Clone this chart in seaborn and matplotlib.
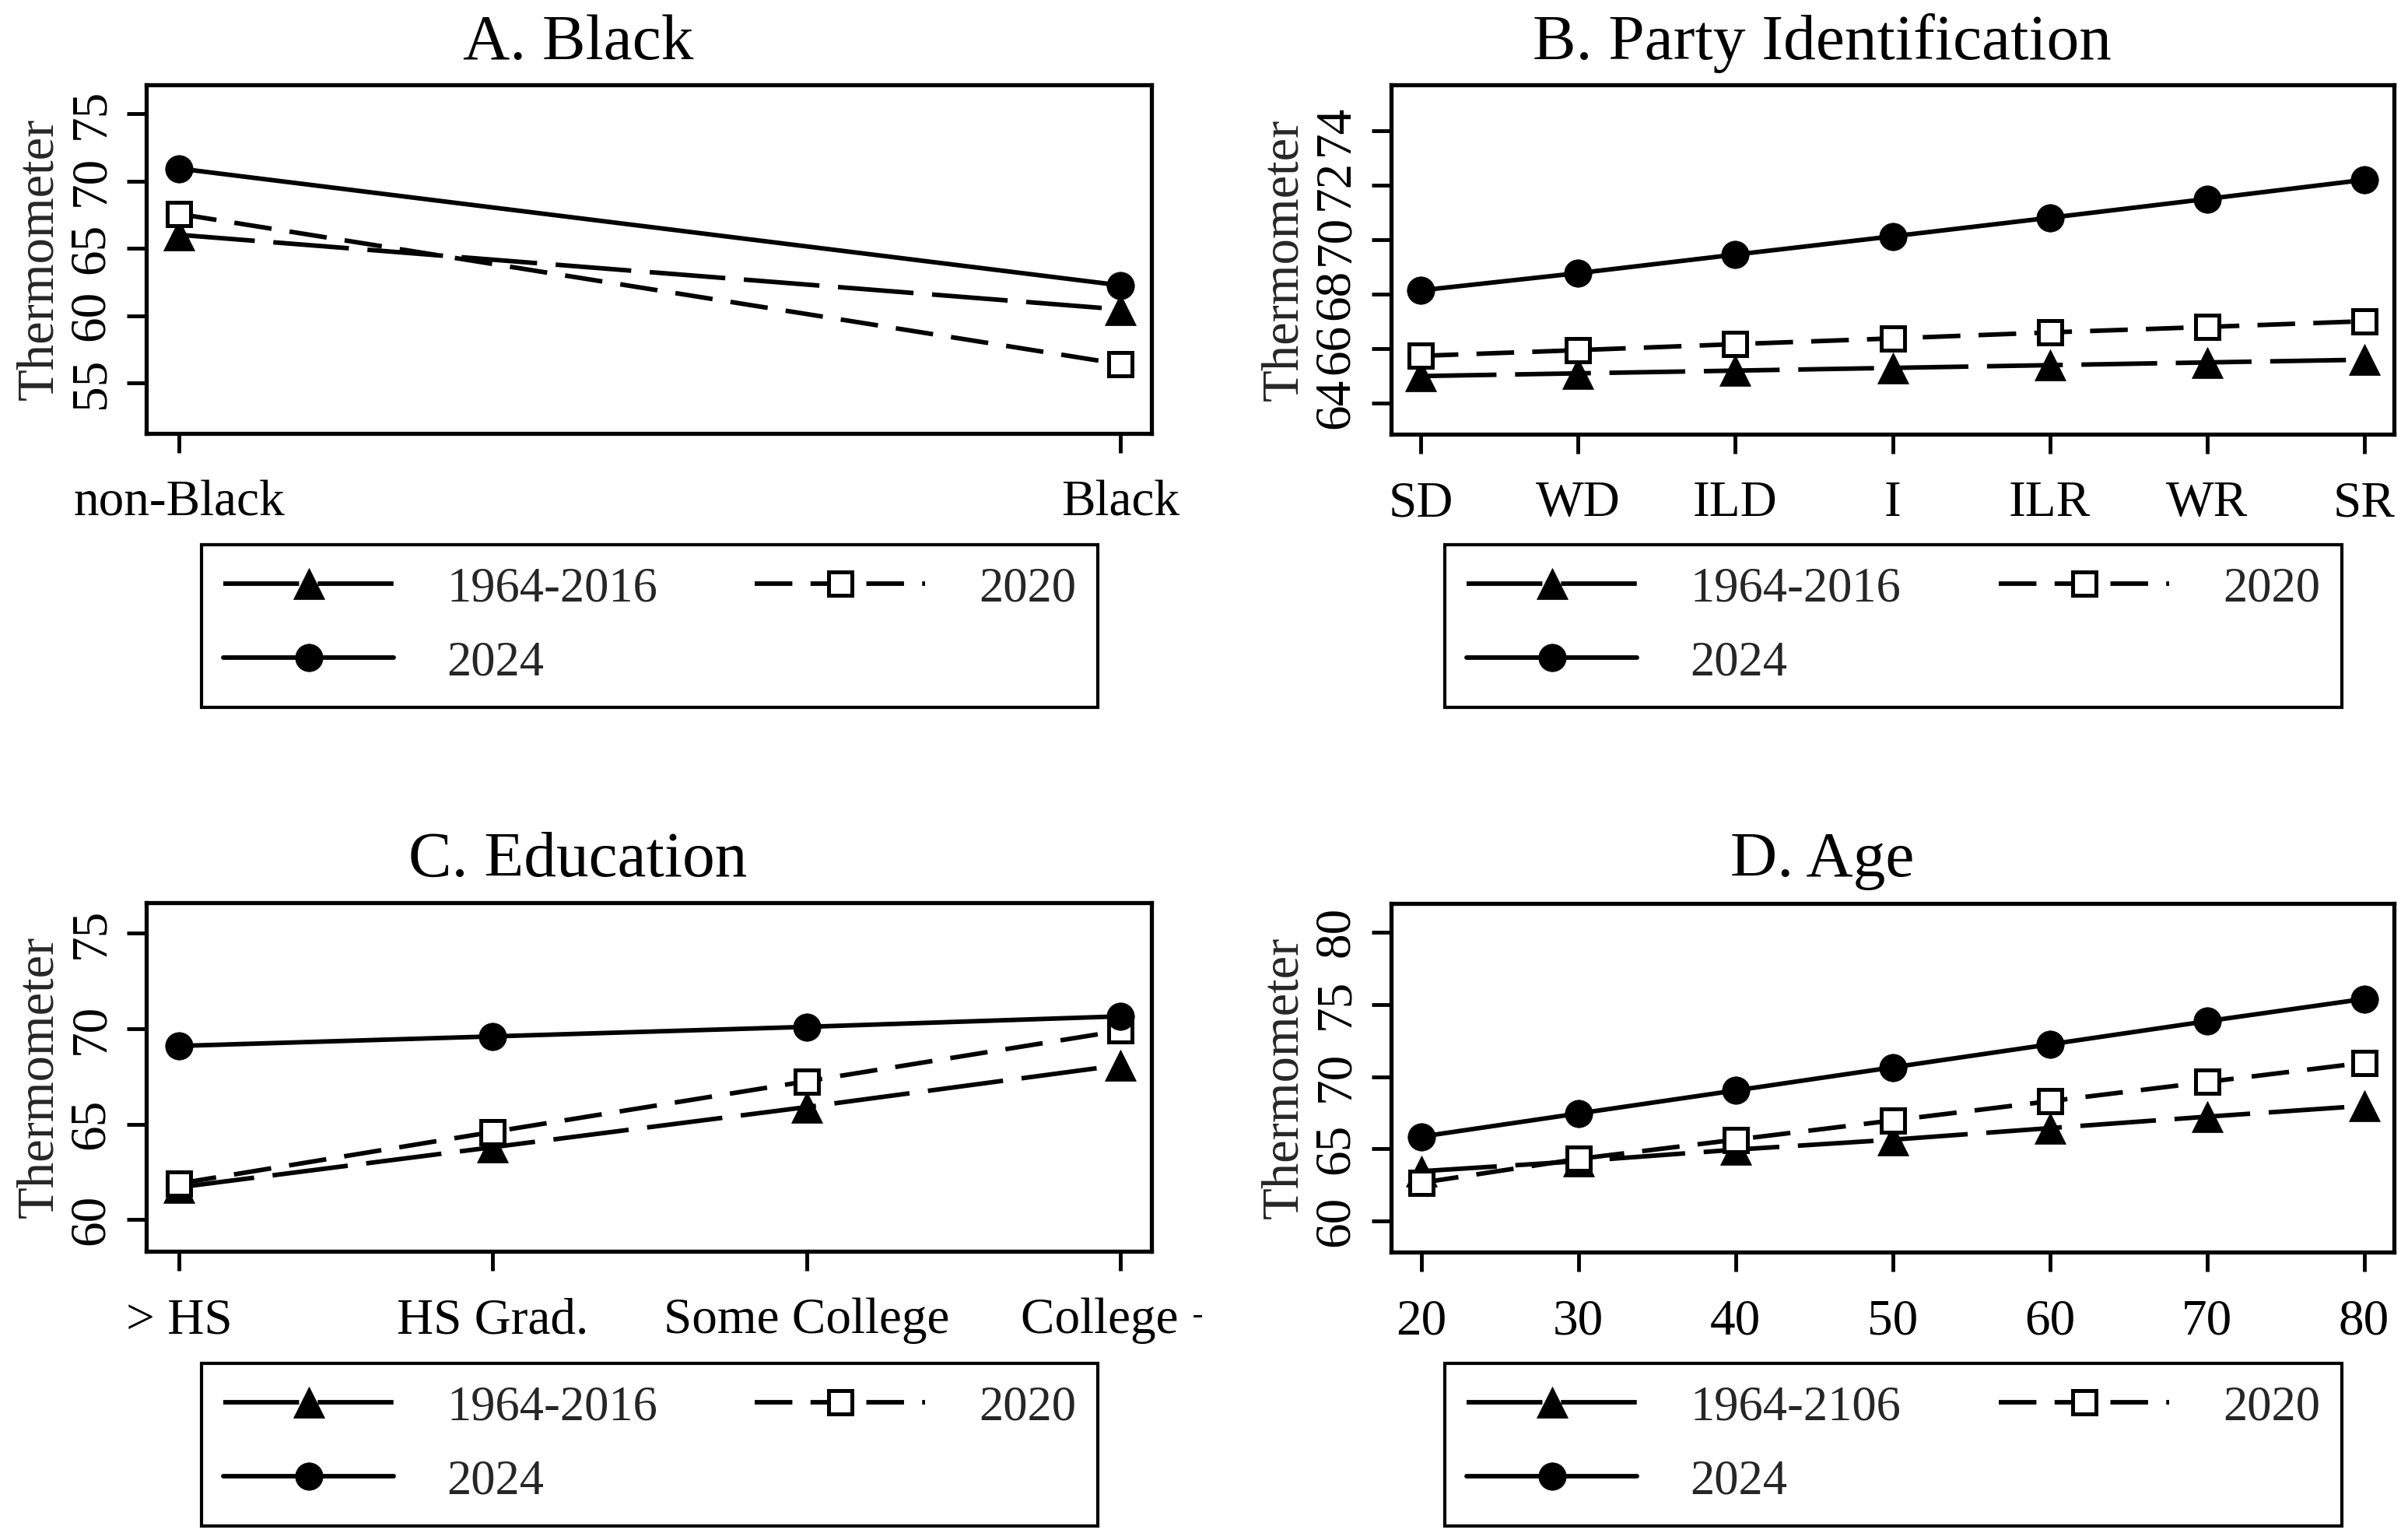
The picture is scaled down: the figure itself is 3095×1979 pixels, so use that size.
import numpy as np
import pandas as pd
import matplotlib
matplotlib.use("Agg")
import matplotlib.pyplot as plt
import seaborn as sns
from matplotlib.transforms import Bbox, TransformedBbox

# ---------------- data ----------------
black_cats = ["non-Black", "Black"]
black_1964_2016 = [66.0, 60.46]
black_2020 = [67.55, 56.4]
black_2024 = [70.92, 62.25]

party_cats = ["SD", "WD", "ILD", "I", "ILR", "WR", "SR"]
party_1964_2016 = [65.0, 65.1, 65.2, 65.3, 65.4, 65.5, 65.6]
party_2020 = [65.74, 65.95, 66.17, 66.38, 66.6, 66.8, 67.01]
party_2024 = [68.14, 68.77, 69.45, 70.12, 70.8, 71.49, 72.19]

edu_cats = ["> HS", "HS Grad.", "Some College", "College +"]
edu_1964_2016 = [61.7, 63.8, 65.9, 68.1]
edu_2020 = [61.9, 64.6, 67.25, 69.9]
edu_2024 = [69.1, 69.6, 70.1, 70.65]

age_vals = [20, 30, 40, 50, 60, 70, 80]
age_1964_2106 = [63.46, 64.15, 64.95, 65.64, 66.44, 67.23, 67.98]
age_2020 = [62.66, 64.31, 65.64, 66.97, 68.3, 69.63, 70.96]
age_2024 = [65.85, 67.45, 69.04, 70.64, 72.23, 73.83, 75.37]

labels_abc = ["1964-2016", "2020", "2024"]
labels_d = ["1964-2106", "2020", "2024"]

# ---------------- style ----------------
sns.set_theme(style="white")
plt.rcParams["font.family"] = ["Liberation Serif", "DejaVu Serif"]
plt.rcParams["axes.edgecolor"] = "black"
plt.rcParams["axes.linewidth"] = 3.8

W, H = 3095, 1979
fig = plt.figure(figsize=(W / 100, H / 100), dpi=100)


def px_rect(l, t, r, b):
    return [l / W, 1 - b / H, (r - l) / W, (b - t) / H]


LW = 4.2
styles = [
    dict(marker="^", markersize=29, markerfacecolor="black", markeredgecolor="black",
         markeredgewidth=0.5, linestyle=(0, (16.7, 4.1))),
    dict(marker="s", markersize=21.6, markerfacecolor="white", markeredgecolor="black",
         markeredgewidth=3.6, linestyle=(0, (8.3, 4.0))),
    dict(marker="o", markersize=25.5, markerfacecolor="black", markeredgecolor="black",
         markeredgewidth=0.5, linestyle="-"),
]

panels = [
    dict(title="A. Black", x=list(range(len(black_cats))), xt=black_cats,
         series=[black_1964_2016, black_2020, black_2024], labels=labels_abc,
         ylim=(51.25, 77.14), yticks=[55, 60, 65, 70, 75], xlim=(-0.035, 1.033),
         ax=(188, 109, 1480, 557), leg=(259, 700, 1411, 909), tx=743, ty=76, clipx=None),
    dict(title="B. Party Identification", x=list(range(len(party_cats))), xt=party_cats,
         series=[party_1964_2016, party_2020, party_2024], labels=labels_abc,
         ylim=(62.87, 75.67), yticks=[64, 66, 68, 70, 72, 74], xlim=(-0.188, 6.188),
         ax=(1788, 109, 3077, 558), leg=(1857, 700, 3010, 909), tx=2342, ty=76, clipx=None),
    dict(title="C. Education", x=list(range(len(edu_cats))), xt=edu_cats,
         series=[edu_1964_2016, edu_2020, edu_2024], labels=labels_abc,
         ylim=(58.35, 76.6), yticks=[60, 65, 70, 75], xlim=(-0.104, 3.099),
         ax=(188, 1160, 1480, 1608), leg=(259, 1752, 1411, 1961), tx=743, ty=1126, clipx=1545),
    dict(title="D. Age", x=age_vals, xt=[str(v) for v in age_vals],
         series=[age_1964_2106, age_2020, age_2024], labels=labels_d,
         ylim=(57.87, 81.97), yticks=[60, 65, 70, 75, 80], xlim=(18.09, 81.9),
         ax=(1788, 1161, 3077, 1609), leg=(1857, 1752, 3010, 1961), tx=2342, ty=1126, clipx=None),
]

for p in panels:
    l, t, r, b = p["ax"]
    ax = fig.add_axes(px_rect(l, t, r, b))
    handles = []
    for vals, lab, st in zip(p["series"], p["labels"], styles):
        df = pd.DataFrame({"x": p["x"], "Thermometer": vals})
        sns.lineplot(data=df, x="x", y="Thermometer", ax=ax, color="black",
                     linewidth=LW, sort=False, legend=False, **st)
        line = ax.lines[-1]
        line.set_label(lab)
        line.set_dash_capstyle("butt")
        handles.append(line)

    ax.set_xlim(*p["xlim"])
    ax.set_ylim(*p["ylim"])
    ax.set_xticks(p["x"])
    xtl = ax.set_xticklabels(p["xt"])
    ax.set_yticks(p["yticks"])
    ax.set_yticklabels([str(v) for v in p["yticks"]])
    ax.set_xlabel("")
    ax.set_ylabel("Thermometer", fontsize=48)
    ax.yaxis.set_label_coords(-107 / (r - l), 0.5)
    ax.tick_params(axis="both", direction="out", length=18, width=3.5, color="black",
                   labelsize=47, labelcolor="black", bottom=True, left=True)
    ax.tick_params(axis="x", pad=25)
    ax.tick_params(axis="y", pad=11.5, labelrotation=90)
    for lab_ in ax.get_yticklabels():
        lab_.set_va("center")
    for sp in ax.spines.values():
        sp.set_linewidth(3.8)
        sp.set_color("black")
    ax.grid(False)

    if p["clipx"] is not None:
        cb = TransformedBbox(Bbox([[0, 0], [p["clipx"] / W, 1]]), fig.transFigure)
        for tl in xtl:
            tl.set_clip_box(cb)
            tl.set_clip_on(True)

    fig.text(p["tx"] / W, 1 - p["ty"] / H, p["title"], ha="center", va="baseline",
             fontsize=60, color="black")

    ll, lt, lr, lb = p["leg"]
    order = [0, 2, 1]
    leg = ax.legend([handles[i] for i in order], [p["labels"][i] for i in order],
                    ncol=2, loc="upper left", mode="expand",
                    bbox_to_anchor=(ll / W, 1 - lb / H, (lr - ll) / W, (lb - lt) / H),
                    bbox_transform=fig.transFigure, borderaxespad=0,
                    fontsize=45, handlelength=3.5, handletextpad=1.1,
                    labelspacing=0.59, borderpad=0.45, fancybox=False,
                    framealpha=1, edgecolor="black", numpoints=1)
    leg.get_frame().set_linewidth(3.0)

fig.savefig("out.png", dpi=100, facecolor="white")
